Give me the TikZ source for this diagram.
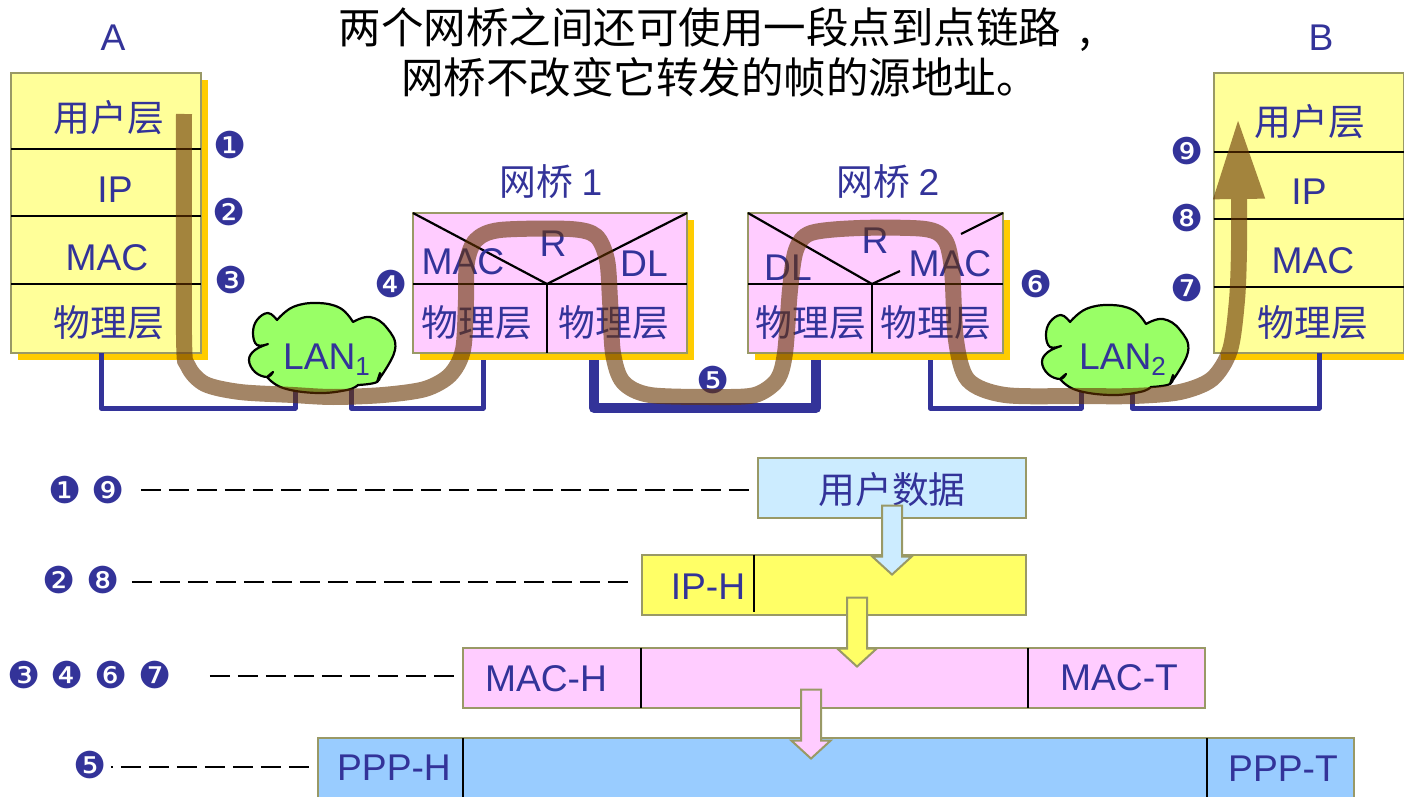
\documentclass[tikz,border=0pt]{standalone}
\usepackage{fontspec}
\setmainfont{Liberation Sans}
\newfontfamily\cjk{Noto Sans CJK SC}
\newfontfamily\dingfont{DejaVu Sans}
\usepackage{tikz}
\usetikzlibrary{shapes,arrows.meta,positioning,calc,shadows}
\usepackage{xcolor}
\definecolor{nblue}{RGB}{51,51,153}
\definecolor{nolive}{RGB}{153,153,102}
\definecolor{nshadow}{RGB}{255,204,0}
\definecolor{nyellow}{RGB}{255,255,153}
\definecolor{npink}{RGB}{255,204,255}
\definecolor{nsky}{RGB}{204,236,255}
\definecolor{nlemon}{RGB}{255,255,102}
\definecolor{nazure}{RGB}{153,204,255}
\definecolor{ngreen}{RGB}{153,255,102}
\definecolor{nbrown}{RGB}{102,51,0}

% one cloud, drawn around the given centre
\newcommand{\lancloud}[1]{
\begin{scope}[shift={(#1)}]
\draw[fill=ngreen, line width=1.1pt, line join=round]
    plot[smooth, tension=.7] coordinates {(-46,-28) (-55,-35) (-66,-28) (-70,-15) (-66,-3) (-55,-4)}
    -- plot[smooth, tension=.7] coordinates {(-55,-4) (-68,2) (-74,12) (-68,24) (-56,29) (-50,24)}
    -- plot[smooth, tension=.7] coordinates {(-56,29) (-40,40) (-6,45) (24,42) (35,37)}
    -- plot[smooth, tension=.7] coordinates {(35,37) (54,34) (57,25)}
    -- plot[smooth, tension=.7] coordinates {(54,34) (72,2) (64,-20) (47,-31) (30,-26)}
    -- plot[smooth, tension=.7] coordinates {(30,-26) (17,-40) (-6,-45) (-30,-41) (-46,-28)}
    -- cycle;
\end{scope}
}

\begin{document}
\begin{tikzpicture}[
    x=0.5pt, y=-0.5pt,
    stackbox/.style={draw=nolive, line width=1pt, fill=nyellow, inner sep=0pt, outer sep=0pt,
                minimum width=95pt, minimum height=140pt,
                drop shadow={shadow xshift=3.5pt, shadow yshift=-3.5pt, fill=nshadow, opacity=1}},
    bridgebox/.style={stackbox, fill=npink, minimum height=70pt},
    bar/.style={draw=nolive, line width=1pt, inner sep=0pt, outer sep=0pt, minimum height=30pt},
    rule/.style={line width=1.1pt, black},
    link/.style={draw=nblue, line width=2.5pt, line join=round},
    dashline/.style={black, line width=1.2pt, dash pattern=on 10pt off 4pt},
    lab/.style={text=nblue, inner sep=0pt, font=\fontsize{18.6}{22}\selectfont},
    cjklab/.style={text=nblue, inner sep=0pt, font=\cjk\fontsize{18.4}{20}\selectfont},
    num/.style={text=nblue, inner sep=0pt, font=\dingfont\fontsize{18.5}{20}\selectfont},
    downarr/.style={single arrow, draw=nolive, line width=1pt, rotate=-90, inner sep=0pt,
                text height=9pt, text depth=0pt, text width=0pt,
                minimum height=34.5pt, minimum width=18.5pt,
                single arrow head extend=4.75pt, single arrow tip angle=95, single arrow head indent=0pt}
]
\useasboundingbox (0,0) rectangle (1404,797);

% title
\node[font=\cjk\fontsize{21.25}{25}\selectfont, align=center, inner sep=0pt] (title) at (715,52.5)
    {两个网桥之间还可使用一段点到点链路\hspace{9pt},\\\hspace*{5pt}网桥不改变它转发的帧的源地址。};
\node[lab] (hostA) at (113,38) {A};
\node[lab] (hostB) at (1321,38) {B};

% hosts and bridges
\node[stackbox] (stackA) at (106,213) {};
\node[stackbox] (stackB) at (1308.5,213) {};
\node[bridgebox, minimum width=137pt] (br1) at (550,283) {};
\node[bridgebox, minimum width=127.5pt] (br2) at (875.5,283) {};

\node[cjklab] (br1name) at (551,182) {网桥\ {\fontsize{18.6}{22}\selectfont\rmfamily 1}};
\node[cjklab] (br2name) at (888,182) {网桥\ {\fontsize{18.6}{22}\selectfont\rmfamily 2}};

% layer rules
\foreach \y in {149,216,284} \draw[rule] (stackA.west |- 0,\y) -- (stackA.east |- 0,\y);
\foreach \y in {152,219,287} \draw[rule] (stackB.west |- 0,\y) -- (stackB.east |- 0,\y);
\coordinate (mid1) at (547,284);
\coordinate (mid2) at (872,284);
\draw[rule] (br1.west |- mid1) -- (br1.east |- mid1);
\draw[rule] (br2.west |- mid2) -- (br2.east |- mid2);
\draw[rule] (mid1) -- (mid1 |- br1.south);
\draw[rule] (mid2) -- (mid2 |- br2.south);
\draw[rule] (br1.north west) -- (mid1) -- (br1.north east);
\draw[rule] (br2.north west) -- (mid2) -- (900,271);
\draw[rule] (961,234) -- (br2.north east);

% layer names
\node[cjklab] (userA) at (109,118) {用户层};
\node[lab] (ipA) at (115,190) {IP};
\node[lab] (macA) at (107,258) {MAC};
\node[cjklab] (phyA) at (109,323) {物理层};
\node[cjklab] (userB) at (1310,122) {用户层};
\node[lab] (ipB) at (1309,192) {IP};
\node[lab] (macB) at (1313,261) {MAC};
\node[cjklab] (phyB) at (1313,323) {物理层};
\node[lab] (mac1) at (463,262) {MAC};
\node[lab] (r1) at (553,244) {R};
\node[lab] (dl1) at (644,264) {DL};
\node[cjklab] (phy1a) at (477,323) {物理层};
\node[cjklab] (phy1b) at (614,323) {物理层};
\node[lab] (dl2) at (788,268) {DL};
\node[lab] (r2) at (875,241) {R};
\node[lab] (mac2) at (950,264) {MAC};
\node[cjklab] (phy2a) at (811,323) {物理层};
\node[cjklab] (phy2b) at (936,323) {物理层};

% LAN links
\node[lab, minimum width=70pt, minimum height=40pt] (lan1) at (323,348) {};
\node[lab, minimum width=70pt, minimum height=40pt] (lan2) at (1116,350) {};
\draw[link] ([xshift=-2.5pt]stackA.south) -- ++(0,55) -| ([xshift=-14pt]lan1.south);
\draw[link] ([xshift=-33.5pt,yshift=-3.5pt]br1.south) -- ++(0,48) -| ([xshift=14pt]lan1.south);
\draw[link, line width=5pt] ([xshift=22pt,yshift=-3.5pt]br1.south) -- ++(0,48) -| ([xshift=-29.75pt,yshift=-3.5pt]br2.south);
\draw[link] ([xshift=27.25pt,yshift=-3.5pt]br2.south) -- ++(0,48) -| ([xshift=-17.5pt]lan2.south);
\draw[link] ([xshift=5.25pt]stackB.south) -- ++(0,55) -| ([xshift=8pt]lan2.south);

\lancloud{323,348}
\lancloud{1116,350}
\node[lab] (lan1name) at (327,360) {LAN\textsubscript{1}};
\node[lab] (lan2name) at (1123,360) {LAN\textsubscript{2}};

% numbered marks
\node[num] (m1) at (230,145) {❶};
\node[num] (m2) at (229,212) {❷};
\node[num] (m3) at (231,280) {❸};
\node[num] (m4) at (391,284) {❹};
\node[num] (m5) at (713,380) {❺};
\node[num] (m6) at (1036,284) {❻};
\node[num] (m7) at (1187,288) {❼};
\node[num] (m8) at (1187,218) {❽};
\node[num] (m9) at (1187,151) {❾};

% route of the frame
\coordinate (flowstart) at (184,114);
\coordinate (flowend) at (1238,117);
\begin{scope}[transparency group, opacity=.6]
\draw[nbrown, line width=8pt, -{Triangle[length=41pt,width=23.5pt]}]
    plot[smooth, tension=.5] coordinates {(flowstart) (184,335) (188,366) (205,384) (240,392) (293,395)
    (333,397) (383,395) (425,389) (450,375) (463,350) (466,300) (467,262) (476,240) (500,230) (570,229)
    (596,236) (607,260) (610,300) (613,353) (623,382) (650,395) (716,397) (755,395) (777,380) (785,353)
    (790,290) (796,250) (811,233) (860,228) (925,229) (945,240) (952,270) (956,340) (968,380)
    (1005,395) (1080,396) (1133,396) (1180,392) (1212,379) (1230,350) (1237,300) (1239,250) (1239,200) (flowend)};
\end{scope}

% frames
\node[bar, fill=nsky, minimum width=134pt] (userdata) at (892,488) {};
\node[bar, fill=nlemon, minimum width=192pt] (ipbar) at (834,584.5) {};
\node[bar, fill=npink, minimum width=371pt] (macbar) at (834,677.5) {};
\node[bar, fill=nazure, minimum width=518pt] (pppbar) at (836,768) {};

\draw[rule] (754,0 |- ipbar.north) -- (754,612);
\draw[rule] (641,0 |- macbar.north) -- (641,0 |- macbar.south);
\draw[rule] (1028,0 |- macbar.north) -- (1028,0 |- macbar.south);
\draw[rule] (463,0 |- pppbar.north) -- (463,0 |- pppbar.south);
\draw[rule] (1207,0 |- pppbar.north) -- (1207,0 |- pppbar.south);

\node[cjklab] (userdataname) at (892,490) {用户数据};
\node[lab] (iph) at (708,587) {IP-H};
\node[lab] (mach) at (546,679) {MAC-H};
\node[lab] (mact) at (1119,678) {MAC-T};
\node[lab] (ppph) at (394,768) {PPP-H};
\node[lab] (pppt) at (1283,769) {PPP-T};

\node[downarr, fill=nsky] (arr1) at (892,535.5) {};
\node[downarr, fill=nlemon] (arr2) at (857,627.5) {};
\node[downarr, fill=npink] (arr3) at (811,719.5) {};

% marks and dashes on the left
\node[num] (r1a) at (65,490) {❶};
\node[num] (r1b) at (108,490) {❾};
\node[num] (r2a) at (59,580) {❷};
\node[num] (r2b) at (103,580) {❽};
\node[num] (r3a) at (24,675) {❸};
\node[num] (r3b) at (67,675) {❹};
\node[num] (r3c) at (111,675) {❻};
\node[num] (r3d) at (155,675) {❼};
\node[num] (r4a) at (90,765) {❺};

\draw[dashline, shorten <=8pt, shorten >=3pt] (r1b.east) -- (r1b.east -| userdata.west);
\draw[dashline, shorten <=6pt, shorten >=7pt] ([yshift=-1pt]r2b.east) -- ([yshift=-1pt]r2b.east -| ipbar.west);
\draw[dashline, shorten <=19pt, shorten >=4pt] ([yshift=-.5pt]r3d.east) -- ([yshift=-.5pt]r3d.east -| macbar.west);
\draw[dashline, dash phase=9pt, shorten <=2pt, shorten >=4pt] ([yshift=-1pt]r4a.east) -- ([yshift=-1pt]r4a.east -| pppbar.west);

\end{tikzpicture}
\end{document}
